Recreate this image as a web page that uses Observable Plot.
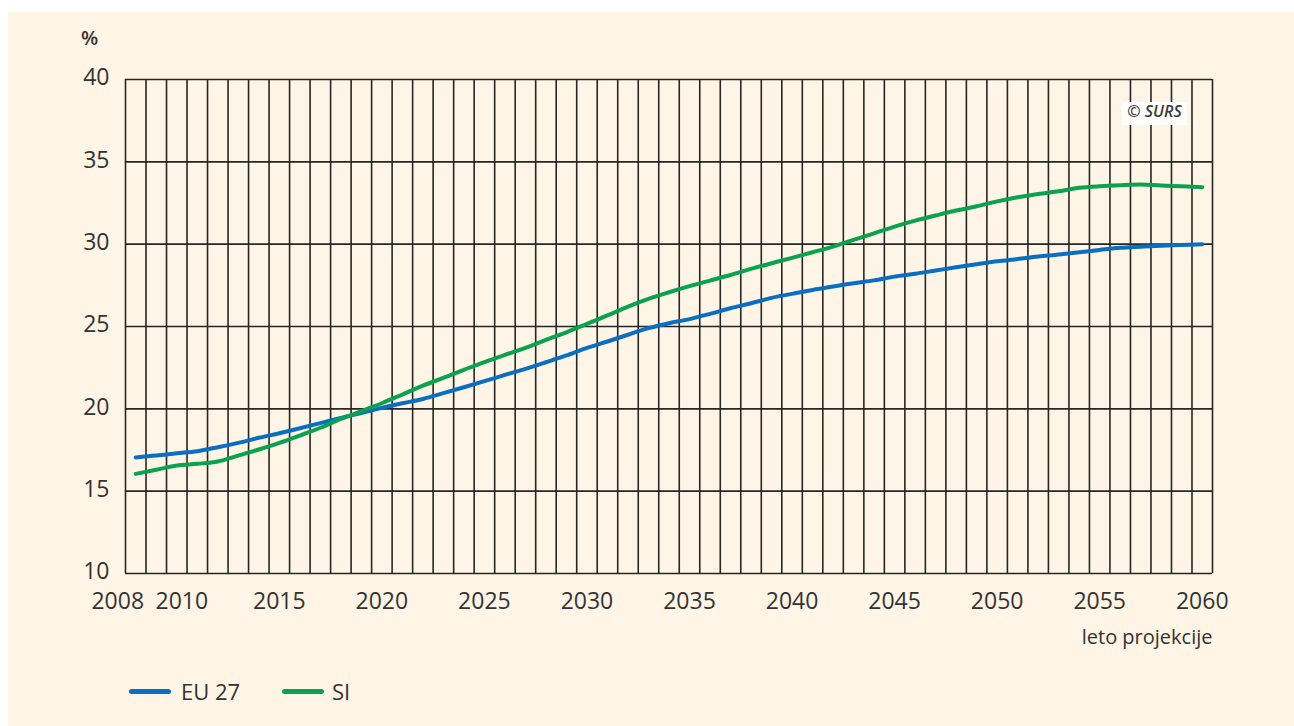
<!DOCTYPE html>
<html>
<head>
<meta charset="utf-8">
<script src="https://cdn.jsdelivr.net/npm/d3@7"></script>
<script src="https://cdn.jsdelivr.net/npm/@observablehq/plot@0.6"></script>
<style>
  html, body { margin: 0; padding: 0; background: #ffffff; }
  #wrap {
    position: absolute; left: 8px; top: 12px; width: 1286px; height: 714px;
    background: #fef5e6; font-family: "Open Sans", sans-serif; color: #333;
  }
  #wrap svg { position: absolute; left: 0; top: 0; }
  .abs { position: absolute; white-space: nowrap; }
  .pct { left: 73px; top: 16px; font-size: 20px; line-height: 20px; font-weight: 600; }
  .surs { left: 1114px; top: 90px; width: 65px; height: 23px; background: #fff;
          font-size: 16px; line-height: 18px; font-style: italic; font-weight: 600; text-align: center; color: #3a3a3a; }
  .sw { height: 5px; border-radius: 3px; }
  .lg { font-size: 22px; line-height: 22px; }
</style>
</head>
<body>
<div id="wrap"></div>
<script>
// ---- data ----
const years = d3.range(2008, 2061);
const eu27 = [17.05, 17.16, 17.3, 17.43, 17.67, 17.93, 18.24, 18.52, 18.82, 19.13,
  19.45, 19.75, 20.06, 20.34, 20.6, 20.95, 21.31, 21.68, 22.06, 22.43,
  22.83, 23.24, 23.7, 24.09, 24.5, 24.9, 25.2, 25.45, 25.77, 26.11,
  26.41, 26.74, 26.98, 27.22, 27.43, 27.63, 27.8, 28.03, 28.2, 28.4,
  28.6, 28.78, 28.96, 29.1, 29.25, 29.37, 29.51, 29.65, 29.78, 29.85,
  29.91, 29.95, 30.0];
const si = [16.05, 16.3, 16.56, 16.66, 16.8, 17.16, 17.53, 17.93, 18.38, 18.85,
  19.39, 19.86, 20.34, 20.87, 21.41, 21.88, 22.37, 22.83, 23.28, 23.7,
  24.19, 24.65, 25.16, 25.67, 26.21, 26.68, 27.08, 27.45, 27.79, 28.13,
  28.5, 28.84, 29.17, 29.51, 29.85, 30.26, 30.66, 31.07, 31.43, 31.74,
  32.04, 32.3, 32.6, 32.85, 33.05, 33.21, 33.42, 33.52, 33.58, 33.62,
  33.56, 33.52, 33.46];
const seriesNames = ["EU 27", "SI"];
const seriesColors = ["#0a6fc2", "#0aa24f"];
const yTicks = [10, 15, 20, 25, 30, 35, 40];
const xTickMain = [2015, 2020, 2025, 2030, 2035, 2040, 2045, 2050, 2055, 2060];
const xTickFirst = [2008];
const xTickSecond = [2010];
const xTitle = "leto projekcije";
const yUnit = "%";
const credit = "© SURS";

// ---- build table ----
const table = [];
years.forEach((yr, i) => {
  table.push({year: yr, value: eu27[i], series: seriesNames[0]});
});
years.forEach((yr, i) => {
  table.push({year: yr, value: si[i], series: seriesNames[1]});
});
const gridX = years.map(y => y - 0.5).concat([years[years.length - 1] + 0.5]);

const gridColor = "#262626";
const fmt = d => String(d);

const chart = Plot.plot({
  width: 1286,
  height: 660,
  marginLeft: 117,
  marginRight: 82,
  marginTop: 67,
  marginBottom: 99,
  x: {domain: [years[0] - 0.5, years[years.length - 1] + 0.5], label: null},
  y: {domain: [10, 40], label: null},
  color: {domain: seriesNames, range: seriesColors},
  style: {background: "transparent", fontFamily: "'Open Sans', sans-serif", fontSize: "23px", color: "#333"},
  marks: [
    Plot.ruleY(yTicks, {stroke: gridColor, strokeWidth: 1.6}),
    Plot.ruleX(gridX, {stroke: gridColor, strokeWidth: 1.6}),
    Plot.line(table, {x: "year", y: "value", stroke: "series", z: "series", strokeWidth: 4, curve: "monotone-x", strokeLinecap: "round"}),
    Plot.axisY(yTicks, {tickSize: 0, tickPadding: 16, fontSize: 23, label: null, dy: -1.5}),
    Plot.axisX(xTickMain, {tickSize: 0, tickPadding: 19, fontSize: 23, label: null, tickFormat: fmt}),
    Plot.axisX(xTickFirst, {tickSize: 0, tickPadding: 19, fontSize: 23, label: null, tickFormat: fmt, dx: -18}),
    Plot.axisX(xTickSecond, {tickSize: 0, tickPadding: 19, fontSize: 23, label: null, tickFormat: fmt, dx: 5}),
    Plot.text([xTitle], {frameAnchor: "bottom-right", textAnchor: "end", fontSize: 20, dy: 70, fill: "#333"})
  ]
});

const wrap = document.getElementById("wrap");
wrap.appendChild(chart);

function addDiv(cls, text, style) {
  const d = document.createElement("div");
  d.className = "abs " + cls;
  if (text) d.textContent = text;
  Object.assign(d.style, style || {});
  wrap.appendChild(d);
  return d;
}
addDiv("pct", yUnit);
addDiv("surs", credit);
// legend
addDiv("sw", null, {left: "121px", top: "677px", width: "42px", background: seriesColors[0]});
addDiv("lg", seriesNames[0], {left: "173px", top: "668px"});
addDiv("sw", null, {left: "274px", top: "677px", width: "42px", background: seriesColors[1]});
addDiv("lg", seriesNames[1], {left: "324px", top: "668px"});
</script>
</body>
</html>
